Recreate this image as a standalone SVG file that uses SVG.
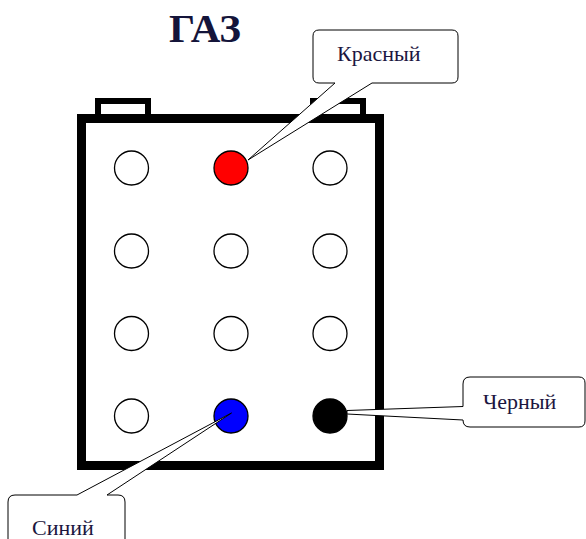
<svg xmlns="http://www.w3.org/2000/svg" width="586" height="539" viewBox="0 0 586 539">
<style>
.lbl{font-family:"Liberation Serif","Times New Roman",serif;font-size:22px;fill:#1c1640}
.title{font-family:"Liberation Serif","Times New Roman",serif;font-size:41px;font-weight:bold;fill:#14143a}
.hole{fill:#fff;stroke:#000;stroke-width:1.3}
.call{fill:#fff;stroke:#000;stroke-width:1}
</style>
<rect width="586" height="539" fill="#fff"/>
<text class="title" x="205" y="42" text-anchor="middle">ГАЗ</text>
<g id="battery">
<rect x="98" y="101" width="50" height="17" fill="none" stroke="#000" stroke-width="6"/>
<rect x="313" y="101" width="50" height="17" fill="none" stroke="#000" stroke-width="6"/>
<rect x="81.5" y="118.5" width="298" height="347" fill="#fff" stroke="#000" stroke-width="9"/>
</g>
<g id="holes">
<circle class="hole" cx="131.5" cy="168" r="17"/>
<circle cx="231" cy="168" r="17" fill="#f00" stroke="#000" stroke-width="1.3"/>
<circle class="hole" cx="330" cy="168" r="17"/>
<circle class="hole" cx="131.5" cy="251" r="17"/>
<circle class="hole" cx="231" cy="251" r="17"/>
<circle class="hole" cx="330" cy="251" r="17"/>
<circle class="hole" cx="131.5" cy="333.5" r="17"/>
<circle class="hole" cx="231" cy="333.5" r="17"/>
<circle class="hole" cx="330" cy="333.5" r="17"/>
<circle class="hole" cx="131.5" cy="416" r="17"/>
<circle cx="231" cy="416" r="17" fill="#00f" stroke="#000" stroke-width="1.3"/>
<circle cx="330" cy="416" r="17" fill="#000" stroke="#000" stroke-width="1.3"/>
</g>
<g id="connectors">
<g id="callout-red">
<path class="call" d="M319,30 H452 Q458,30 458,36 V77 Q458,83 452,83 H372 L248,160 L335,83 H319 Q313,83 313,77 V36 Q313,30 319,30 Z"/>
<text class="lbl" x="337" y="61">Красный</text>
</g>
<g id="callout-black">
<path class="call" d="M470,377 H579 Q585,377 585,383 V421 Q585,427 579,427 H470 Q463,427 463,420 L347,414 L347,410.5 L463,406.5 V384 Q463,377 470,377 Z"/>
<text class="lbl" x="483" y="409">Черный</text>
</g>
<g id="callout-blue">
<path class="call" d="M15,495 H77 L231.5,413 L107,495 H118 Q125,495 125,502 V545 H8 V502 Q8,495 15,495 Z"/>
<text class="lbl" x="32" y="535">Синий</text>
</g>
</g>
</svg>
